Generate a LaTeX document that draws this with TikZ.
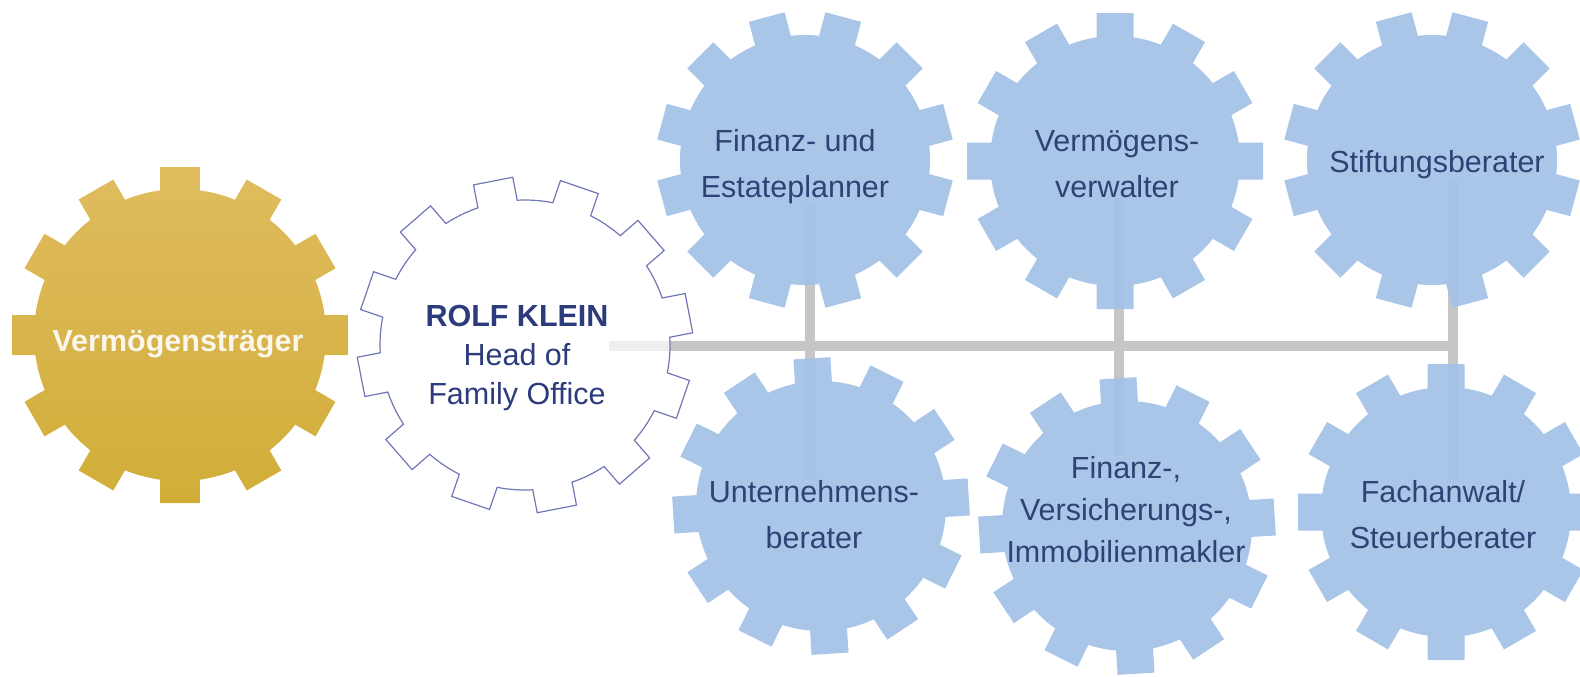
\documentclass[tikz,border=0pt]{standalone}
\usepackage{fontspec}
\setmainfont{Liberation Sans}
\pgfdeclarelayer{bg}
\pgfsetlayers{bg,main}
\definecolor{gblue}{HTML}{A3C2E7}
\definecolor{navy}{HTML}{2E4374}
\definecolor{rolfc}{HTML}{2B3B7B}
\definecolor{gline}{HTML}{C6C6C6}
\definecolor{goldt}{HTML}{DFBC5E}
\definecolor{goldb}{HTML}{D1AD38}
\definecolor{gearline}{HTML}{7077B8}
\definecolor{offwhite}{HTML}{FBF7EC}
\newcommand{\drawgear}[6]{%
  \pgfmathsetmacro{\gA}{asin(#5/#3)}%
  \pgfmathsetmacro{\gB}{atan(#5/#4)}%
  \pgfmathsetmacro{\gR}{10*sqrt((#4/10)^2+(#5/10)^2)}%
  \path[#1,shift={#2}] ({#6-\gA}:#3)
    \foreach \k in {0,...,11}{
      -- ({#6+30*\k-\gB}:\gR) -- ({#6+30*\k+\gB}:\gR) -- ({#6+30*\k+\gA}:#3)
      arc[start angle={#6+30*\k+\gA}, end angle={#6+30*\k+30-\gA}, radius=#3]
    } -- cycle;
}
\tikzset{
  bluegear/.style={fill=gblue,fill opacity=0.93},
  lbl/.style={text=navy,align=center,inner sep=0pt,font=\fontsize{15.25}{23}\selectfont},
  conn/.style={draw=gline,line width=5pt}
}
\begin{document}
\begin{tikzpicture}[x=0.5pt,y=-0.5pt]
\useasboundingbox (0,0) rectangle (1580,676);
% gears
\drawgear{top color=goldt,bottom color=goldb}{(180,335)}{146}{168}{20}{0}
\drawgear{draw=gearline,line width=0.6pt,fill=white,fill opacity=0.7}{(525,345)}{145}{167}{20}{-11}
\drawgear{bluegear}{(805,160)}{125}{148}{18.5}{15}
\drawgear{bluegear}{(1115,161)}{125}{148}{18.5}{0}
\drawgear{bluegear}{(1432,160)}{125}{148}{18.5}{15}
\drawgear{bluegear}{(821,506)}{125}{148}{18.5}{-3.5}
\drawgear{bluegear}{(1127,526)}{125}{148}{18.5}{-3.5}
\drawgear{bluegear}{(1446,512)}{125}{148}{18.5}{0}
% labels
\node[inner sep=0pt,text=offwhite,font=\fontsize{15.25}{19}\selectfont\bfseries] (verm) at (178,344) {Vermögensträger};
\node[lbl,text=rolfc,font=\fontsize{15.25}{19.5}\selectfont] (rolf) at (517,358) {\textbf{ROLF KLEIN}\\Head of\\Family Office};
\node[lbl] (t1) at (795,167) {Finanz- und\\Estateplanner};
\node[lbl] (t2) at (1117,164) {Vermögens-\\verwalter};
\node[lbl] (t3) at (1437,165) {Stiftungsberater};
\node[lbl] (t4) at (814,515) {Unternehmens-\\berater};
\node[lbl,font=\fontsize{15.25}{21}\selectfont] (t5) at (1126,510) {Finanz-,\\Versicherungs-,\\Immobilienmakler};
\node[lbl] (t6) at (1443,515) {Fachanwalt/\\Steuerberater};
% connectors
\coordinate (j1) at (810,346);
\coordinate (j2) at (1119,346);
\coordinate (j3) at (1453,346);
\begin{pgfonlayer}{bg}
\draw[conn] (rolf.east |- j1) -- ([xshift=2.5pt]j3);
\draw[conn] (t1.south -| j1) -- (t4.north -| j1);
\draw[conn] (t2.south -| j2) -- (t5.north -| j2);
\draw[conn] (t3.south -| j3) -- (t6.north -| j3);
\end{pgfonlayer}
\end{tikzpicture}
\end{document}
